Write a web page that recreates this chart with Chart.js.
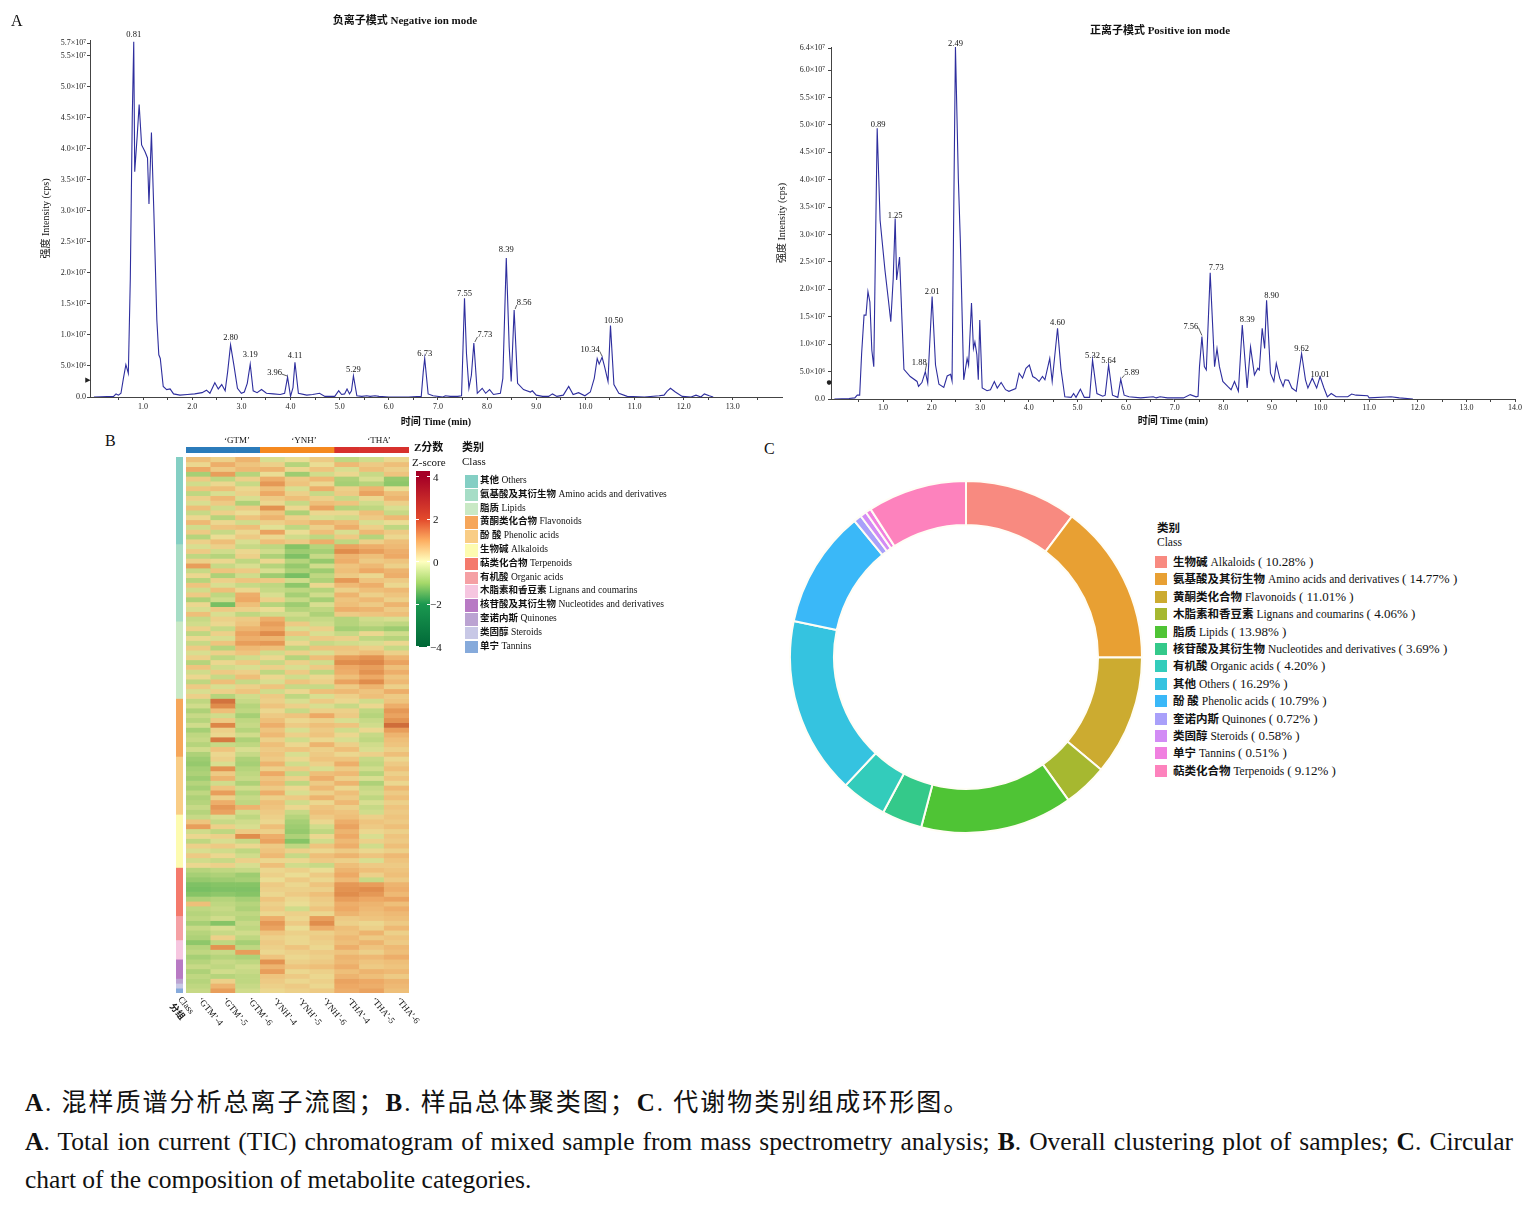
<!DOCTYPE html>
<html><head><meta charset="utf-8">
<script src="https://cdn.jsdelivr.net/npm/chart.js@4.4.1/dist/chart.umd.min.js"></script>
<style>
html,body{margin:0;padding:0;background:#fff;}
#root{position:relative;width:1539px;height:1207px;overflow:hidden;font-family:'Liberation Serif','Noto Sans CJK SC',serif;color:#111;}
canvas{position:absolute;}
.t{position:absolute;white-space:nowrap;line-height:1;}
.sw{position:absolute;}
.cap{position:absolute;left:25px;white-space:nowrap;font-family:'Liberation Serif','Noto Sans CJK SC',serif;color:#111;}
</style></head><body><div id="root">
<canvas id="neg" width="810" height="430" style="left:0px;top:0px"></canvas>
<canvas id="pos" width="769" height="430" style="left:770px;top:0px"></canvas>
<canvas id="hdr" width="223" height="6" style="left:186px;top:447px"></canvas>
<canvas id="side" width="7" height="536" style="left:176px;top:457px"></canvas>
<canvas id="heat" width="290" height="620" style="left:150px;top:430px"></canvas>
<canvas id="donut" width="354" height="354" style="left:789px;top:480px"></canvas>
<div id="overlay"></div>
<div class="cap" style="top:1088px;font-size:25px;line-height:30px;letter-spacing:2px"><b>A</b>. 混样质谱分析总离子流图；<b>B</b>. 样品总体聚类图；<b>C</b>. 代谢物类别组成环形图。</div>
<div class="cap" style="top:1127px;width:1488px;font-size:25.5px;line-height:30px;white-space:normal;text-align:justify;text-align-last:justify;"><b>A</b>. Total ion current (TIC) chromatogram of mixed sample from mass spectrometry analysis; <b>B</b>. Overall clustering plot of samples; <b>C</b>. Circular</div>
<div class="cap" style="top:1165px;font-size:25.5px;line-height:30px;">chart of the composition of metabolite categories.</div>
</div>
<script>
// ================= DATA =================
// Panel A – negative ion mode TIC (time in min, intensity in 10^7 cps)
const negTime = [0,0.40,0.45,0.50,0.55,0.60,0.65,0.70,0.74,0.78,
0.81,0.83,0.88,0.92,0.97,1.04,1.09,1.12,1.17,1.22,
1.28,1.32,1.35,1.41,1.48,1.55,1.62,1.75,1.90,2.05,
2.20,2.29,2.36,2.46,2.53,2.60,2.67,2.72,2.78,2.85,
2.92,3.00,3.06,3.12,3.18,3.24,3.32,3.41,3.51,3.65,
3.79,3.88,3.94,4.00,4.05,4.09,4.16,4.33,4.45,4.59,
4.70,4.90,4.98,5.04,5.10,5.15,5.20,5.24,5.28,5.35,
5.45,5.55,5.62,5.72,5.80,6.00,6.40,6.66,6.70,6.73,
6.80,6.90,7.10,7.15,7.25,7.40,7.48,7.51,7.54,7.58,
7.63,7.68,7.73,7.80,7.90,7.97,8.05,8.13,8.27,8.32,
8.39,8.45,8.49,8.55,8.62,8.74,8.88,8.92,9.00,9.13,
9.25,9.33,9.42,9.55,9.66,9.75,9.86,9.99,10.10,10.18,
10.24,10.28,10.34,10.39,10.46,10.51,10.58,10.68,10.85,11.20,
11.50,11.60,11.66,11.73,11.83,11.97,12.15,12.25,12.35,12.42,
12.52,12.60];
const negInt = [0,0.01,0.05,0.03,0.06,0.30,0.52,0.38,1.90,4.50,
5.72,3.63,4.20,4.71,4.06,3.95,3.85,3.11,4.26,2.96,
1.24,0.68,0.62,0.17,0.12,0.13,0.05,0.03,0.04,0.05,
0.07,0.11,0.06,0.23,0.13,0.20,0.10,0.40,0.84,0.50,
0.14,0.06,0.08,0.22,0.53,0.10,0.07,0.12,0.06,0.05,
0.04,0.06,0.32,0.01,0.15,0.56,0.06,0.03,0.04,0.06,
0.01,0.01,0.10,0.04,0.05,0.13,0.05,0.10,0.34,0.02,
0.01,0.02,0.01,0.02,0.01,0,0,0.01,0.40,0.62,
0.05,0.02,0,0.02,0.01,0.01,0.02,0.80,1.59,0.70,
0.14,0.35,0.87,0.06,0.14,0.06,0.12,0.04,0.06,0.30,
2.24,0.80,0.25,1.40,0.22,0.12,0.08,0.10,0.03,0.01,
0.01,0.05,0.01,0.03,0.17,0.04,0.07,0.02,0.08,0.30,
0.62,0.53,0.64,0.49,0.25,1.15,0.20,0.06,0.01,0,
0.02,0.03,0.09,0.14,0.08,0.01,0,0.03,0,0.05,
0.02,0];
const negPeakTimes = [0.81,2.80,3.19,3.96,4.11,5.29,6.73,7.55,7.73,8.39,8.56,10.34,10.50];

// Panel A – positive ion mode TIC
const posTime = [0,0.30,0.42,0.47,0.52,0.56,0.61,0.65,0.69,0.73,
0.77,0.81,0.88,0.94,1.04,1.11,1.16,1.21,1.25,1.28,
1.34,1.39,1.43,1.56,1.70,1.73,1.80,1.87,1.92,1.96,
2.01,2.08,2.15,2.25,2.32,2.39,2.42,2.45,2.49,2.55,
2.59,2.66,2.73,2.76,2.82,2.86,2.89,2.93,2.96,2.99,
3.04,3.14,3.21,3.29,3.35,3.43,3.52,3.59,3.73,3.80,
3.87,3.94,4.01,4.08,4.14,4.21,4.28,4.33,4.43,4.48,
4.59,4.66,4.74,4.87,4.92,4.97,5.06,5.14,5.25,5.31,
5.40,5.52,5.57,5.64,5.72,5.83,5.89,5.96,6.06,6.30,
6.56,6.62,6.70,6.85,7.18,7.32,7.44,7.48,7.51,7.56,
7.61,7.65,7.73,7.82,7.87,7.92,7.99,8.09,8.16,8.23,
8.31,8.39,8.49,8.56,8.64,8.71,8.74,8.80,8.85,8.89,
8.97,9.04,9.09,9.16,9.23,9.27,9.34,9.41,9.50,9.61,
9.69,9.74,9.83,9.92,9.99,10.07,10.14,10.22,10.32,10.56,
10.64,10.73,10.97,11.00,11.45,11.62,11.90];
const posInt = [0,0.01,0.02,0.07,0.07,0.83,1.53,1.53,1.96,1.77,
0.89,0.59,4.94,3.26,2.35,1.81,1.41,2.20,3.29,2.17,
2.59,1.44,0.54,0.41,0.32,0.23,0.30,0.50,0.29,1.00,
1.87,0.62,0.27,0.21,0.42,0.45,0.33,3.00,6.42,4.00,
2.90,0.35,0.74,0.62,1.75,0.92,1.04,0.81,0.35,1.44,
0.20,0.15,0.17,0.32,0.20,0.30,0.17,0.14,0.19,0.47,
0.38,0.56,0.62,0.41,0.38,0.32,0.41,0.35,0.74,0.32,
1.29,0.55,0.04,0.03,0.10,0.03,0.18,0.03,0.03,0.71,
0.10,0.05,0.07,0.62,0.07,0.03,0.36,0.07,0.04,0.02,
0.04,0.02,0.04,0.02,0.02,0.08,0.04,0.05,0.59,1.14,
0.59,0.53,2.30,0.59,0.92,0.59,0.32,0.23,0.17,0.32,
0.14,1.35,0.20,0.95,0.44,0.56,0.53,1.29,0.92,1.80,
0.47,0.32,0.65,0.38,0.23,0.35,0.34,0.20,0.14,0.83,
0.35,0.20,0.38,0.20,0.41,0.20,0.04,0.10,0.04,0.04,
0.09,0.07,0.06,0.02,0.04,0.02,0];
const posPeakTimes = [0.89,1.25,1.88,2.01,2.49,4.60,5.32,5.64,5.89,7.56,7.73,8.39,8.90,9.62,10.01];

// tick values / labels
const negXTicks = [0.5,1,1.5,2,2.5,3,3.5,4,4.5,5,5.5,6,6.5,7,7.5,8,8.5,9,9.5,10,10.5,11,11.5,12,12.5,13,13.5];
const posXTicks = [0.5,1,1.5,2,2.5,3,3.5,4,4.5,5,5.5,6,6.5,7,7.5,8,8.5,9,9.5,10,10.5,11,11.5,12,12.5,13,13.5,14];
const negYTicks = [0,0.5,1,1.5,2,2.5,3,3.5,4,4.5,5,5.5,5.7];
const negYTickLabels = ['0.0','5.0×10⁶','1.0×10⁷','1.5×10⁷','2.0×10⁷','2.5×10⁷','3.0×10⁷','3.5×10⁷','4.0×10⁷','4.5×10⁷','5.0×10⁷','5.5×10⁷','5.7×10⁷'];
const posYTicks = [0,0.5,1,1.5,2,2.5,3,3.5,4,4.5,5,5.5,6,6.4];
const posYTickLabels = ['0.0','5.0×10⁶','1.0×10⁷','1.5×10⁷','2.0×10⁷','2.5×10⁷','3.0×10⁷','3.5×10⁷','4.0×10⁷','4.5×10⁷','5.0×10⁷','5.5×10⁷','6.0×10⁷','6.4×10⁷'];

// Panel B – heatmap (z-scores), columns = samples
const sampleLabels = ['‘GTM’-4','‘GTM’-5','‘GTM’-6','‘YNH’-4','‘YNH’-5','‘YNH’-6','‘THA’-4','‘THA’-5','‘THA’-6'];
const sampleGroups = ['GTM','GTM','GTM','YNH','YNH','YNH','THA','THA','THA'];
const groupNames = ['GTM','YNH','THA'];
const classNamesZh = ['其他','氨基酸及其衍生物','脂质','黄酮类化合物','酚 酸','生物碱','萜类化合物','有机酸','木脂素和香豆素','核苷酸及其衍生物','奎诺内斯','类固醇','单宁'];
const classNamesEn = ['Others','Amino acids and derivatives','Lipids','Flavonoids','Phenolic acids','Alkaloids','Terpenoids','Organic acids','Lignans and coumarins','Nucleotides and derivatives','Quinones','Steroids','Tannins'];
const zOthers = [
[.6,.3,.8,-.2,.1,.4,-.5,-.3,.2],[.2,.9,.5,.3,-.6,.1,.7,.4,.6],[1.0,.4,.7,.8,.2,.5,-.2,.6,.3],
[-.8,1.2,-.6,.1,-.9,-.3,.2,-.4,.5],[.4,-.5,.3,.9,.4,.7,-.7,-.2,-1.0],[-.3,.2,-.4,1.3,.5,.2,-.8,-.6,-1.1],
[.5,.6,.2,.6,-.2,.9,.3,.8,.1],[-.5,-.2,.3,1.0,.3,-.4,.4,1.1,.6],[.3,.7,-.2,.4,.6,.3,-.4,.2,.8],
[-.2,.4,-.7,.2,-.4,.6,.5,-.3,.3],[.6,-.3,.4,1.4,.2,1.1,-.6,-.5,-.2],[-.4,.3,.1,.5,-.7,.2,.2,.6,-.4],
[.2,-.6,.5,.8,.3,-.2,-.3,.4,.7],[.7,.2,-.3,.3,.5,.8,.6,-.2,.1],[-.3,.5,.6,-.1,-.5,.3,.9,.3,-.5],
[.4,-.4,.2,1.1,.1,.6,-.2,.7,.4],[-.6,.1,.4,.2,-.3,-.5,.4,-.6,.2],[.3,.6,-.2,.6,.4,.9,-.5,.3,.6]];
const zAmino = [
[-.2,.3,-.4,-.5,-1.2,-.6,1.1,.9,.7],[.4,-.3,.2,-.3,-.9,-.8,1.5,1.2,.9],[-.5,-.6,.3,-.7,-1.3,-.4,.8,.6,1.0],
[.3,.2,-.5,.2,-.6,-1.0,.9,.4,.5],[1.2,-.4,-.2,-.6,-1.0,-.3,.5,.7,.3],[-.4,.5,.4,-.2,-.7,-.9,.6,1.0,.8],
[.2,-.7,-.3,-.9,-1.4,-.5,.4,.2,.9],[-.6,.3,.5,.4,-.3,-.7,1.3,.5,.4],[.5,-.2,-.4,-.5,-1.1,.2,.7,.9,.2],
[-.3,.6,.2,-.4,-.5,-.6,.3,.6,.7],[.4,-.5,.9,-.2,-.8,-.3,.8,.3,.5],[-.7,-.3,1.0,.3,-.4,-.8,.5,.7,.3],
[.2,-1.4,.6,-.6,-.9,-.2,.6,.4,.8],[-.2,.4,.3,.1,-.6,-.5,.9,.8,.4],[.6,-.2,-.5,-.3,-.3,-.7,.4,.5,.6],
[-.4,.3,.4,.9,-.5,-.4,-.6,-.3,-.2]];
const zLipids = [
[-.3,.2,.5,1.2,.4,-.3,-.6,-.4,-.5],[.3,-.4,.8,1.0,-.2,.3,-.8,-.7,-.9],[-.5,.3,1.1,1.5,.5,-.2,-.4,.2,-.3],
[.2,-.2,.9,.8,-.3,.4,.3,-.5,-.6],[-.4,.5,1.2,1.3,.2,-.4,-.3,-.2,.2],[.4,-.6,.7,.6,-.5,.5,.5,.3,-.4],
[-.2,.3,.5,-.3,.3,-.2,.4,.6,.3],[.3,-.5,-.3,.2,-.6,.6,1.2,1.4,.8],[-.6,.2,.4,-.4,.3,-.3,1.5,1.6,1.1],
[.5,-.3,-.2,.3,-.2,.4,1.0,1.2,.6],[-.3,.4,.3,-.5,.4,-.5,.9,1.4,.9],[.2,-.4,.6,.2,-.3,.2,.6,1.0,.5],
[-.5,.6,-.4,-.2,.5,.3,1.1,1.5,.7],[.4,-.2,.3,.5,-.4,-.4,.4,.8,.3],[-.2,.3,.5,-.3,.2,.6,.7,.5,.9],
[.3,-.6,-.3,.4,-.5,-.2,.3,.6,.4]];
const zFlavonoids = [
[-.5,1.9,-.4,.3,-.2,.4,.2,-.3,.5],[-.3,1.5,-.6,.5,.3,-.2,-.4,.2,.9],[-.7,.6,-.5,.2,-.4,.3,.3,-.5,1.3],
[-.4,-.3,-.8,.4,.5,1.0,.4,-.6,1.1],[-.6,.4,-.5,.6,.2,.3,-.2,-.4,1.4],[-.3,1.6,-.4,.9,.4,.6,.5,-.3,2.0],
[-.8,.3,-.6,.5,-.2,.4,-.3,.2,1.2],[-.5,.2,-.3,.7,.3,.5,.2,-.4,.8],[-.4,1.8,-.7,.3,-.3,.2,-.2,-.5,.6],
[-.6,-.4,-.5,.6,.2,.8,.3,-.3,.5],[-.3,.5,-.2,.4,.5,.3,.6,-.2,.3],[-.7,.2,-.4,.5,-.2,.4,.2,.3,.6]];
const zPhenolic = [
[-.9,.3,-.7,.4,.2,.5,.5,-.4,.2],[-1.0,-.2,-.8,.8,-.3,.3,.9,-.5,.4],[-.8,1.4,-.6,.3,.4,-.2,.4,-.3,.6],
[-.7,.4,-.5,1.0,-.4,.6,.7,-.6,.3],[-.9,.8,-.4,.5,.3,.9,.3,-.2,.5],[-.6,-.3,-.7,.7,-.5,.4,.8,-.7,.2],
[-.8,.5,-.3,.4,.2,.7,.2,-.4,.7],[-.5,1.2,-.6,.9,-.2,.3,.6,-.3,.4],[-.7,.3,-.4,.3,.4,.8,.4,-.5,.6],
[-.6,.9,-.5,.6,-.3,.2,.7,-.2,.3],[-.4,1.3,.8,.5,.2,.5,.3,-.4,.5],[-.6,1.1,-.3,.4,-.4,.6,.5,-.3,.4]];
const zAlkaloids = [
[-.4,-.2,-.5,.3,-.6,.4,.6,.3,.5],[.5,-.4,-.3,.2,-.8,.2,.9,.5,.4],[1.2,.3,-.2,.6,-.9,-.3,1.1,.4,.6],
[-.3,-.5,.4,.3,-1.0,-.5,.8,.2,.3],[.2,.3,1.5,.9,-.7,.2,1.0,-.2,.5],[-.5,-.2,-.4,1.1,-1.2,-.3,.7,.3,.4],
[.3,.4,.2,.4,-.5,.5,.9,-.3,.6],[-.2,-.3,-.5,.5,.3,.2,.4,.2,.3],[.4,.2,-.3,.7,-.4,.6,.8,.5,.7],
[-.3,-.4,.3,.2,.2,.4,.3,-.2,.5],[.2,.3,-.2,.6,-.3,-.4,.6,.4,.4]];
const zTerpenoids = [
[-.6,-.5,-.4,.2,.3,.1,.8,.6,.5],[-.8,-.7,-.9,.3,.1,.4,1.0,.3,.6],[-1.0,-.9,-.8,.1,.4,.2,.7,-.4,.4],
[-1.3,-1.2,-1.2,.4,.2,.5,1.3,1.2,.8],[-1.4,-1.3,-1.3,.3,.3,.3,1.4,1.5,.9],[-1.2,-1.1,-1.2,.2,.4,.6,1.5,1.3,.7],
[-.7,-.6,-.8,.5,.2,.4,1.2,1.0,1.1],[.6,-.5,-.6,.3,.1,.3,.9,.8,.6],[-.5,-.4,-.7,.4,-.3,.5,1.0,.7,.9],
[-.6,-.5,-.5,.2,.3,.2,.8,.6,.7]];
const zOrganic = [
[-.5,-.3,-.6,.9,.2,1.2,.4,.5,.6],[-.8,-1.2,-.4,1.3,.4,1.5,.3,.2,.4],[-.4,-.2,-.5,1.1,.1,.9,.6,.3,.7],
[-.6,-.4,-.3,.5,.3,.3,.5,.8,.3],[-.7,.3,-.5,.3,.2,.4,.7,.4,.5]];
const zLignans = [
[-1.1,-.5,-.8,.4,.2,.3,.6,.8,.4],[-.6,1.4,-.5,.3,.5,.2,.9,.5,.7],[-.5,-.4,1.2,.2,.3,.4,.5,.3,.6],
[-.8,-.6,-.7,.5,.2,.3,.8,.7,.9]];
const zNucleotides = [
[-.6,-.4,-.5,1.4,.3,.4,.7,.5,.6],[-.4,-.5,-.3,.8,.5,.6,.9,.4,.5],[-.7,-.3,-.4,1.2,.2,.3,.6,.8,.7],
[-.5,-.6,-.5,.5,.4,.2,.8,.6,.4]];
const zQuinones = [[-.6,.3,-.5,.4,.2,.3,1.1,1.0,.8]];
const zSteroids = [[-.5,.8,-.4,.3,.4,.2,1.0,.9,.7]];
const zTannins = [[-.4,1.2,-.3,.2,.3,.4,.9,1.1,.6]];
const zTickValues = [4,2,0,-2,-4];

// Panel C – doughnut
const donutNamesZh = ['生物碱','氨基酸及其衍生物','黄酮类化合物','木脂素和香豆素','脂质','核苷酸及其衍生物','有机酸','其他','酚 酸','奎诺内斯','类固醇','单宁','萜类化合物'];
const donutNamesEn = ['Alkaloids','Amino acids and derivatives','Flavonoids','Lignans and coumarins','Lipids','Nucleotides and derivatives','Organic acids','Others','Phenolic acids','Quinones','Steroids','Tannins','Terpenoids'];
const donutPercents = [10.28,14.77,11.01,4.06,13.98,3.69,4.20,16.29,10.79,0.72,0.58,0.51,9.12];

// ================= STYLE =================
const FONT = "'Liberation Serif','Noto Sans CJK SC',serif";
const classColors = ['#84cfc4','#a6ddc6','#c9e9c5','#f6a65a','#f9cd86','#fdfbb0','#f47a6c','#f5a0a4','#f6c6e0','#b87ac4','#bba3d2','#c8c8e6','#86aadb'];
const groupColors = {GTM:'#2b7bba', YNH:'#f5891f', THA:'#d7312d'};
const donutColors = ['#f88a80','#e8a033','#ccab30','#a6b830','#4fc435','#34c98a','#33ccbb','#35c3e0','#3ab8f8','#a9a0fa','#d28cf5','#f080e0','#fd82bd'];
// colour bar (legend) stops
const zColorStops = [[-4,'#006837'],[-2,'#1a9850'],[-1,'#a6d96a'],[0,'#ffffbf'],[1,'#fdae61'],[2,'#e34a2c'],[4,'#a50026']];
// cell rendering stops (as the cells appear in the printed figure)
const cellColorStops = [[-4,'#006837'],[-2,'#4fae5a'],[-1.2,'#86c466'],[-0.6,'#b6d47c'],[0,'#e9e39a'],[0.5,'#eec47e'],[1,'#eda965'],[1.5,'#e08d4c'],[2,'#cf6d3a'],[4,'#a50026']];
const negPeakOffsets = [[0,-7],[0,-7],[0,-9],[-13,-4],[0,-6],[0,-6],[0,-5],[0,-5],[11,-8],[0,-8],[10,-7],[-12,-7],[3,-5]];
const negPeakLeaders = [0,0,0,1,0,0,0,0,1,0,1,1,0];
const posPeakOffsets = [[1,-3],[0,-3],[-6,-9],[0,-5],[0,-3],[0,-6],[0,-4],[0,-4],[11,-6],[-11,-10],[6,-5],[5,-5],[5,-5],[0,-5],[0,-2]];
const posPeakLeaders = [0,0,1,0,0,0,0,0,1,1,0,0,0,0,0];

Chart.defaults.font.family = FONT;
Chart.defaults.color = '#111';
Chart.defaults.animation = false;

function hexRgb(h){h=h.replace('#','');return [0,2,4].map(i=>parseInt(h.substr(i,2),16));}
function rampColor(s,z){
  if(z<=s[0][0]) return s[0][1];
  for(let k=1;k<s.length;k++){
    if(z<=s[k][0]){
      const f=(z-s[k-1][0])/(s[k][0]-s[k-1][0]);
      const a=hexRgb(s[k-1][1]), b=hexRgb(s[k][1]);
      return 'rgb('+a.map((v,j)=>Math.round(v+(b[j]-v)*f)).join(',')+')';
    }
  }
  return s[s.length-1][1];
}
const cellColor = z => rampColor(cellColorStops,z);

// ---------- plugins ----------
const textPlugin = {
  id:'fixedTexts',
  afterDraw(chart,args,opts){
    const ctx=chart.ctx;
    (opts.items||[]).forEach(it=>{
      ctx.save();
      ctx.font=it.font; ctx.fillStyle=it.color||'#111';
      ctx.textAlign=it.align||'center'; ctx.textBaseline='middle';
      ctx.fillText(it.text,it.x,it.y);
      ctx.restore();
    });
  }
};
const peakLabelPlugin = {
  id:'peakLabels',
  afterDatasetsDraw(chart,args,opts){
    const ctx=chart.ctx, xs=chart.scales.x, ys=chart.scales.y;
    const pts=chart.data.datasets[0].data;
    ctx.save();
    ctx.font=opts.font; ctx.fillStyle='#111'; ctx.strokeStyle='#333'; ctx.lineWidth=0.8;
    ctx.textAlign='center'; ctx.textBaseline='middle';
    opts.times.forEach((t,i)=>{
      let best=null;
      pts.forEach(p=>{ if(Math.abs(p.x-t)<=0.05 && (!best||p.y>best.y)) best=p; });
      if(!best) return;
      const px=xs.getPixelForValue(best.x), py=ys.getPixelForValue(best.y);
      const off=opts.offsets[i], tx=px+off[0], ty=py+off[1];
      const label=t.toFixed(2);
      ctx.fillText(label,tx,ty);
      if(opts.leaders[i]){
        const w=ctx.measureText(label).width;
        ctx.beginPath();
        if(off[0]<0){ ctx.moveTo(tx+w/2,ty+1); ctx.lineTo(px,py-1); }
        else { ctx.moveTo(tx-w/2,ty+2); ctx.lineTo(px+1,py-1); }
        ctx.stroke();
      }
    });
    ctx.restore();
  }
};

// ---------- TIC charts ----------
function ticChart(id,c){
  const axisCol='#444';
  return new Chart(document.getElementById(id),{
    type:'line',
    data:{datasets:[{data:c.t.map((t,i)=>({x:t,y:c.v[i]})),borderColor:'#2e2e9e',borderWidth:1.1,pointRadius:0,tension:0,fill:false}]},
    options:{
      responsive:false,animation:false,events:[],
      layout:{padding:c.pad},
      plugins:{legend:{display:false},tooltip:{enabled:false},
        fixedTexts:{items:c.texts},
        peakLabels:{times:c.peaks,offsets:c.peakOff,leaders:c.leaders,font:'8.5px '+FONT}},
      scales:{
        x:{type:'linear',min:c.xmin,max:c.xmax,
          afterFit:s=>{s.height=c.xh;},
          afterBuildTicks:s=>{s.ticks=c.xt.map(v=>({value:v}));},
          ticks:{autoSkip:false,maxRotation:0,padding:c.xtp,font:{size:8},color:'#222',
            callback:v=>Number.isInteger(v)?v.toFixed(1):''},
          grid:{display:true,drawOnChartArea:false,drawTicks:true,tickLength:3,tickColor:axisCol},
          border:{display:true,color:axisCol,width:1},
          title:{display:true,text:'时间 Time (min)',font:{size:10,weight:'bold'},color:'#111',padding:{top:0,bottom:c.xtitlePad}}},
        y:{type:'linear',min:0,max:c.ymax,
          afterFit:s=>{s.width=c.yw;},
          afterBuildTicks:s=>{s.ticks=c.yt.map(v=>({value:v}));},
          ticks:{autoSkip:false,padding:c.ytp,font:{size:8},color:'#222',callback:(v,i)=>c.ytl[i]},
          grid:{display:true,drawOnChartArea:false,drawTicks:true,tickLength:3,tickColor:axisCol},
          border:{display:true,color:axisCol,width:1},
          title:{display:true,text:'强度 Intensity (cps)',font:{size:10},color:'#111',padding:{top:c.ytitlePad,bottom:0}}}
      }
    },
    plugins:[textPlugin,peakLabelPlugin]
  });
}
ticChart('neg',{t:negTime,v:negInt,peaks:negPeakTimes,peakOff:negPeakOffsets,leaders:negPeakLeaders,
  pad:{left:0,right:28,top:40,bottom:0},xmin:-0.08,xmax:14.0,ymax:5.75,xh:33,yw:90,xtp:2,ytp:1,xtitlePad:2,ytitlePad:40,
  xt:negXTicks,yt:negYTicks,ytl:negYTickLabels,
  texts:[{text:'负离子模式 Negative ion mode',x:405,y:21,font:'bold 11px '+FONT},{text:'▶',x:88,y:380,font:'7px DejaVu Sans',color:'#222'}]});
ticChart('pos',{t:posTime,v:posInt,peaks:posPeakTimes,peakOff:posPeakOffsets,leaders:posPeakLeaders,
  pad:{left:0,right:24,top:47,bottom:0},xmin:-0.07,xmax:14.0,ymax:6.42,xh:31,yw:61,xtp:1,ytp:3,xtitlePad:3,ytitlePad:6,
  xt:posXTicks,yt:posYTicks,ytl:posYTickLabels,
  texts:[{text:'正离子模式 Positive ion mode',x:390,y:31,font:'bold 11px '+FONT},{text:'●',x:59,y:382,font:'6px DejaVu Sans',color:'#222'}]});

// ---------- heatmap ----------
const zBlocks=[zOthers,zAmino,zLipids,zFlavonoids,zPhenolic,zAlkaloids,zTerpenoids,zOrganic,zLignans,zNucleotides,zQuinones,zSteroids,zTannins];
const heatRows=zBlocks.flat();
const R=heatRows.length;
const barDefaults={barPercentage:1,categoryPercentage:1,grouped:false,borderWidth:0};
const sampleLabelPlugin={
  id:'sampleLabels',
  afterDraw(chart){
    const ctx=chart.ctx, xs=chart.scales.x, ca=chart.chartArea, ang=50*Math.PI/180;
    ctx.save(); ctx.fillStyle='#111'; ctx.textAlign='left'; ctx.textBaseline='middle';
    ctx.font='9px '+FONT;
    sampleLabels.forEach((l,i)=>{
      ctx.save(); ctx.translate(xs.getPixelForValue(i)+1,ca.bottom+6); ctx.rotate(ang); ctx.fillText(l,0,0); ctx.restore();
    });
    ctx.save(); ctx.translate(ca.left-6.5,ca.bottom+5); ctx.rotate(ang);
    ctx.fillText('Class',0,0); ctx.font='bold 9px '+FONT; ctx.fillText('分组',0,11); ctx.restore();
    ctx.restore();
  }
};
new Chart(document.getElementById('heat'),{
  type:'bar',
  data:{labels:sampleLabels,datasets:heatRows.map((row,r)=>Object.assign({data:row.map(()=>[r,r+1]),backgroundColor:row.map(cellColor)},barDefaults))},
  options:{responsive:false,animation:false,events:[],layout:{padding:{left:36,right:31,top:27,bottom:57}},
    plugins:{legend:{display:false},tooltip:{enabled:false}},
    scales:{x:{display:false},y:{display:false,min:0,max:R,reverse:true}}},
  plugins:[sampleLabelPlugin]
});
// class sidebar
let acc=0;
const sideSets=zBlocks.map((b,k)=>{const s=acc; acc+=b.length; return Object.assign({data:[[s,acc]],backgroundColor:classColors[k]},barDefaults);});
new Chart(document.getElementById('side'),{
  type:'bar',data:{labels:['Class'],datasets:sideSets},
  options:{responsive:false,animation:false,events:[],layout:{padding:0},
    plugins:{legend:{display:false},tooltip:{enabled:false}},
    scales:{x:{display:false},y:{display:false,min:0,max:R,reverse:true}}}
});
// group header
new Chart(document.getElementById('hdr'),{
  type:'bar',data:{labels:sampleLabels,datasets:[Object.assign({data:sampleGroups.map(()=>[0,1]),backgroundColor:sampleGroups.map(g=>groupColors[g])},barDefaults)]},
  options:{responsive:false,animation:false,events:[],layout:{padding:0},
    plugins:{legend:{display:false},tooltip:{enabled:false}},
    scales:{x:{display:false},y:{display:false,min:0,max:1}}}
});

// ---------- doughnut ----------
new Chart(document.getElementById('donut'),{
  type:'doughnut',
  data:{labels:donutNamesEn,datasets:[{data:donutPercents,backgroundColor:donutColors,borderColor:'#fffdf5',borderWidth:2}]},
  options:{responsive:false,animation:false,events:[],cutout:'75%',layout:{padding:0},
    plugins:{legend:{display:false},tooltip:{enabled:false}}}
});

// ---------- HTML texts / legends ----------
const ov=document.getElementById('overlay');
let h='';
function T(html,x,y,size,extra){h+=`<div class="t" style="left:${x}px;top:${y}px;font-size:${size}px;transform:translateY(-50%);${extra||''}">${html}</div>`;}
T('A',11,21,16); T('B',105,441,16); T('C',764,449,16);
const grpX={GTM:237,YNH:304,THA:379};
groupNames.forEach(g=>{h+=`<div class="t" style="left:${grpX[g]}px;top:440px;font-size:9px;transform:translate(-50%,-50%)">‘${g}’</div>`;});
// z-score legend
T('<b>Z分数</b>',414,447,11); T('Z-score',412,462,11);
const cbTop=471, cbH=176, z4y=476.7, pxPerZ=21.25;
const grad=zColorStops.slice().reverse().map(s=>`${s[1]} ${((z4y+(4-s[0])*pxPerZ-cbTop)/cbH*100).toFixed(1)}%`).join(',');
h+=`<div class="sw" style="left:416px;top:${cbTop}px;width:14px;height:${cbH}px;background:linear-gradient(to bottom,${zColorStops[zColorStops.length-1][1]} 0%,${grad})"></div>`;
zTickValues.forEach(z=>{
  const y=z4y+(4-z)*pxPerZ;
  h+=`<div class="sw" style="left:416px;top:${y-0.5}px;width:3px;height:1px;background:#fff"></div><div class="sw" style="left:427px;top:${y-0.5}px;width:3px;height:1px;background:#fff"></div>`;
  T(z<0?'−'+(-z):String(z), z<0?430:433, y, 11);
});
// class legend (B)
T('<b>类别</b>',462,447,11); T('Class',462,461,11);
classNamesZh.forEach((zh,i)=>{
  const y=481+i*13.8;
  h+=`<div class="sw" style="left:465px;top:${y-6}px;width:13px;height:12.5px;background:${classColors[i]}"></div>`;
  T(`<b>${zh}</b> ${classNamesEn[i]}`,480,y,9.5);
});
// doughnut legend (C)
T('<b>类别</b>',1157,529,11.5); T('Class',1157,543,11.5);
donutNamesZh.forEach((zh,i)=>{
  const y=562+i*17.4;
  h+=`<div class="sw" style="left:1155px;top:${y-6}px;width:12px;height:12px;background:${donutColors[i]}"></div>`;
  T(`<b>${zh}</b> ${donutNamesEn[i]} <span style="font-size:13px">( ${donutPercents[i].toFixed(2)}% )</span>`,1173,y,11.5);
});
ov.innerHTML=h;
</script>
</body></html>
